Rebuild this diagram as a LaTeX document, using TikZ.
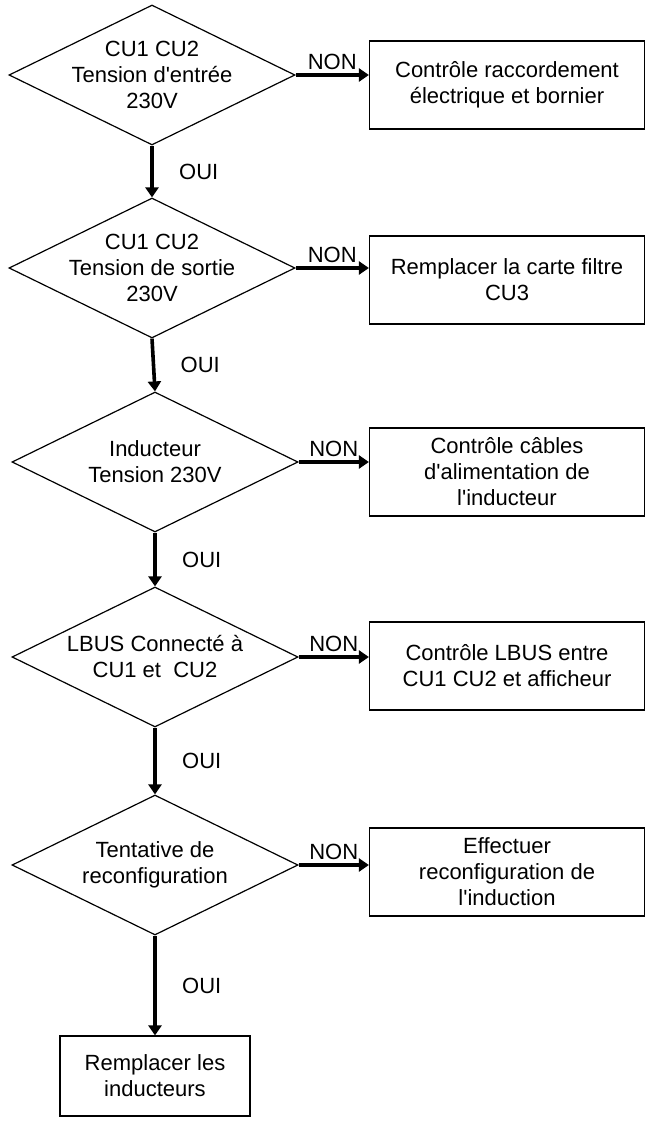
\documentclass[tikz,border=0pt]{standalone}
\usepackage{fontspec}
\setmainfont{Liberation Sans}
\usetikzlibrary{shapes.geometric,arrows.meta}
\newcommand{\apos}{\textquotesingle}
\tikzset{
  choix/.style={ draw, diamond, line width=1.2pt, inner sep=0pt, minimum width=286pt, minimum height=140pt },
  texte/.style={ align=center, font=\fontsize{22}{26}\selectfont },
  action/.style={ draw, rectangle, line width=1.2pt, inner sep=2pt, minimum width=275pt, minimum height=88pt, align=center, font=\fontsize{22}{26}\selectfont },
  fleche/.style={ line width=3.6pt, -{Triangle[length=10pt, width=13pt]} },
  etiq/.style={ font=\fontsize{22}{26}\selectfont }
}
\begin{document}
\begin{tikzpicture}[x=1pt, y=-1pt]
      \useasboundingbox (0,0) rectangle (659,1123);

      \node[choix] (d1) at (152, 75) {};
      \node[texte] at (d1) {CU1 CU2\\Tension d\apos entrée\\230V};
      \node[action] (r1) at (507, 85) {Contrôle raccordement\\électrique et bornier};
      \draw[fleche] (d1.east) -- node[etiq, above] {NON} (r1.west |- d1.east);

      \node[choix] (d2) at (152, 268) {};
      \node[texte] at (d2) {CU1 CU2\\Tension de sortie\\230V};
      \node[action] (r2) at (507, 280) {Remplacer la carte filtre\\CU3};
      \draw[fleche] (d2.east) -- node[etiq, above] {NON} (r2.west |- d2.east);
      \draw[fleche] (d1.south) -- node[etiq, right, xshift=22pt] {OUI} (d2.north);

      \node[choix] (d3) at (155, 462) {};
      \node[texte] at (d3) {Inducteur\\Tension 230V};
      \node[action] (r3) at (507, 472) {Contrôle câbles\\d\apos alimentation de\\l\apos inducteur};
      \draw[fleche] (d3.east) -- node[etiq, above] {NON} (r3.west |- d3.east);
      \draw[fleche] (d2.south) -- node[etiq, right, xshift=22pt] {OUI} (d3.north);

      \node[choix] (d4) at (155, 657) {};
      \node[texte] at (d4) {LBUS Connecté à\\CU1 et \ CU2};
      \node[action] (r4) at (507, 666) {Contrôle LBUS entre\\CU1 CU2 et afficheur};
      \draw[fleche] (d4.east) -- node[etiq, above] {NON} (r4.west |- d4.east);
      \draw[fleche] (d3.south) -- node[etiq, right, xshift=22pt] {OUI} (d4.north);

      \node[choix] (d5) at (155, 865) {};
      \node[texte] at (d5) {Tentative de\\reconfiguration};
      \node[action] (r5) at (507, 872) {Effectuer\\reconfiguration de\\l\apos induction};
      \draw[fleche] (d5.east) -- node[etiq, above] {NON} (r5.west |- d5.east);
      \draw[fleche] (d4.south) -- node[etiq, right, xshift=22pt] {OUI} (d5.north);

      \node[action, minimum width=190pt, minimum height=80pt] (fin) at (155, 1076) {Remplacer les\\inducteurs};
      \draw[fleche] (d5.south) -- node[etiq, right, xshift=22pt] {OUI} (fin.north);
\end{tikzpicture}
\end{document}
